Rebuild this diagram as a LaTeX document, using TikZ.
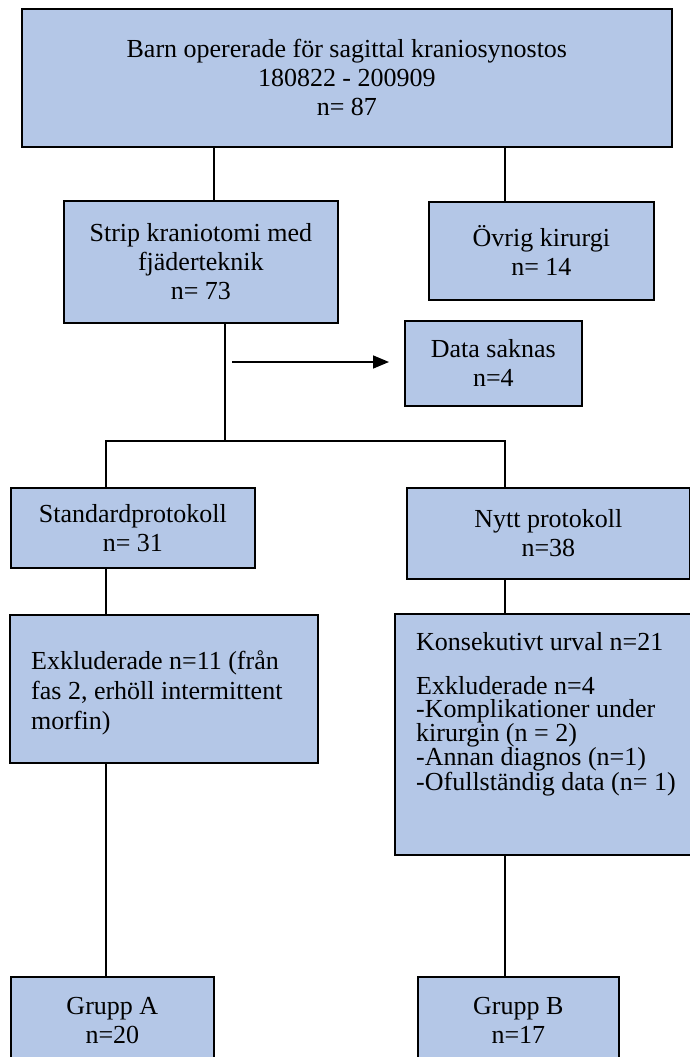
\documentclass[tikz,border=0pt]{standalone}
\usepackage{fontspec}
\setmainfont{Liberation Serif}
\usetikzlibrary{arrows.meta}
\definecolor{boxblue}{RGB}{180,199,231}
\begin{document}
\begin{tikzpicture}[x=1pt,y=-1pt,
  box/.style={draw=black, line width=1.7pt, fill=boxblue, rectangle, inner sep=0pt, anchor=north west,
    font=\fontsize{26}{29}\selectfont, align=center},
  txt/.style={inner sep=0pt, anchor=north west, align=left},
  conn/.style={draw=black, line width=1.6pt}]
\useasboundingbox (0,0) rectangle (690,1057);
\clip (0,0) rectangle (690,1057);
\fill[white] (0,0) rectangle (690,1057);

% boxes
\node[box, minimum width=650pt, minimum height=138pt] (top) at (21,8)
  {Barn opererade för sagittal kraniosynostos\\180822 - 200909\\n= 87};
\node[box, minimum width=274pt, minimum height=122pt] (strip) at (63,200)
  {Strip kraniotomi med\\fjäderteknik\\n= 73};
\node[box, minimum width=225pt, minimum height=98pt] (ovrig) at (428,201)
  {Övrig kirurgi\\n= 14};
\node[box, minimum width=177pt, minimum height=85pt] (data) at (404,320)
  {Data saknas\\n=4};
\node[box, minimum width=244pt, minimum height=80pt] (std) at (10,487)
  {Standardprotokoll\\n= 31};
\node[box, minimum width=283pt, minimum height=91pt] (nytt) at (406,487)
  {Nytt protokoll\\n=38};
\node[box, minimum width=308pt, minimum height=148pt] (exkl) at (9,614) {};
\node[txt, font=\fontsize{26}{30}\selectfont] (exkltxt) at (31,650)
  {Exkluderade n=11 (från\\fas 2, erhöll intermittent\\morfin)};
\node[box, minimum width=310pt, minimum height=241pt] (konsek) at (394,613) {};
\node[txt, font=\fontsize{26}{23.8}\selectfont] (konsektxt) at (416,632)
  {Konsekutivt urval n=21\\[20pt]Exkluderade n=4\\-Komplikationer under\\kirurgin (n = 2)\\-Annan diagnos (n=1)\\-Ofullständig data (n= 1)};
\node[box, minimum width=203pt, minimum height=88pt] (gruppA) at (10,976)
  {Grupp A\\n=20};
\node[box, minimum width=201pt, minimum height=88pt] (gruppB) at (417,976)
  {Grupp B\\n=17};

% connector positions
\coordinate (xa) at (214,0);
\coordinate (xb) at (505,0);
\coordinate (xc) at (225,0);
\coordinate (xd) at (106,0);
\coordinate (split) at (225,441);
\coordinate (arrS) at (232,362);

\draw[conn] (top.south -| xa) -- (strip.north -| xa);
\draw[conn] (top.south -| xb) -- (ovrig.north -| xb);
\draw[conn] (strip.south -| xc) -- (split);
\draw[conn, -{Triangle[length=16pt,width=13pt]}, shorten >=15pt] (arrS) -- (arrS -| data.west);
\draw[conn] (std.north -| xd) -- (xd |- split) -- (xb |- split) -- (nytt.north -| xb);
\draw[conn] (std.south -| xd) -- (exkl.north -| xd);
\draw[conn] (nytt.south -| xb) -- (konsek.north -| xb);
\draw[conn] (exkl.south -| xd) -- (gruppA.north -| xd);
\draw[conn] (konsek.south -| xb) -- (gruppB.north -| xb);
\end{tikzpicture}
\end{document}
